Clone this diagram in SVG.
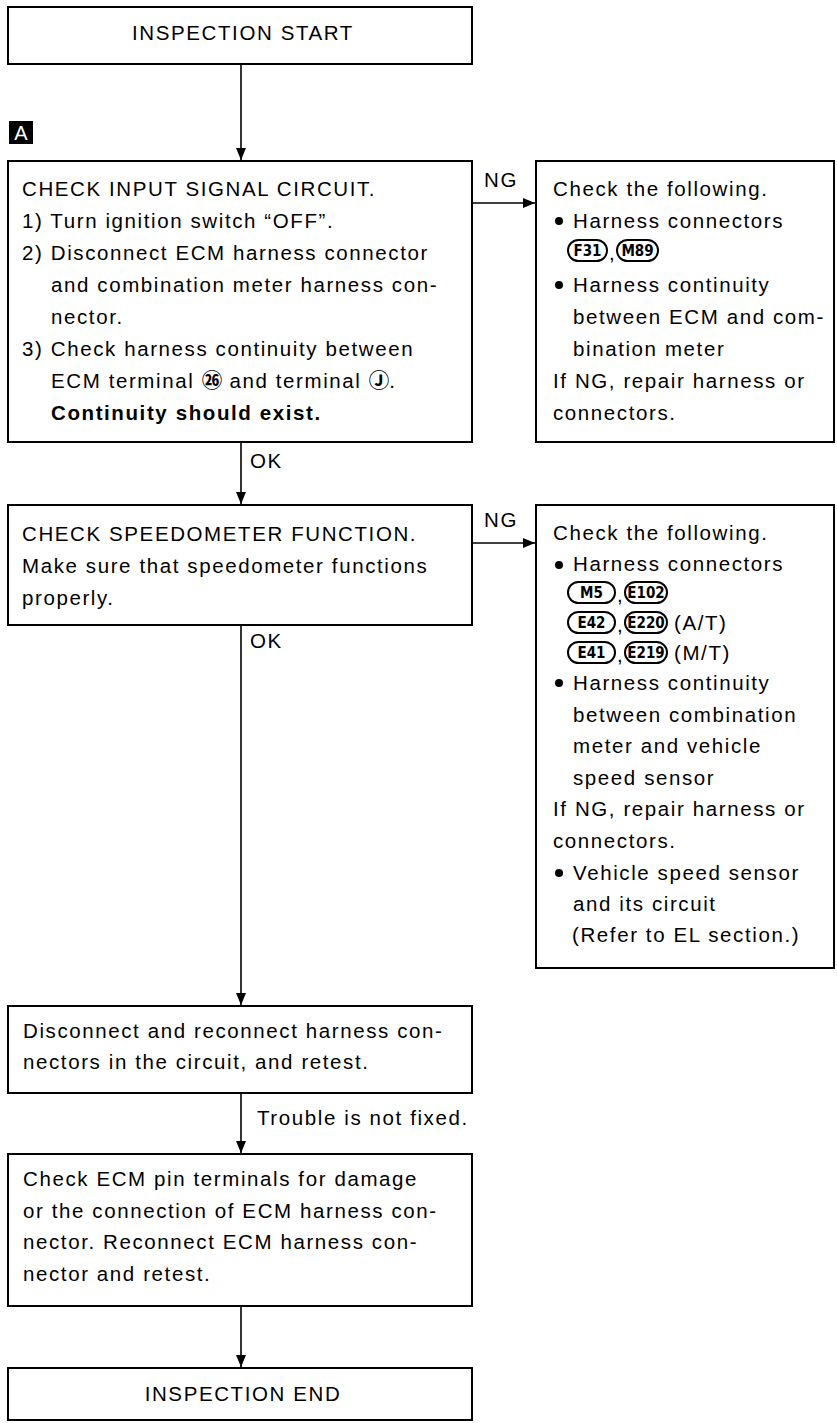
<svg xmlns="http://www.w3.org/2000/svg" width="837" height="1423" viewBox="0 0 837 1423">
<style>
.box{fill:#fff;stroke:#000;stroke-width:2}
.t{font-family:"Liberation Sans",Arial,sans-serif;font-size:20.5px;letter-spacing:1.6px;fill:#000}
.c{text-anchor:middle}
.b{font-weight:bold}
.ln{stroke:#000;stroke-width:1.6;fill:none}
.pill{fill:#fff;stroke:#000;stroke-width:2}
.pt{font-family:"DejaVu Sans Condensed","DejaVu Sans",sans-serif;font-weight:bold;font-size:15px;text-anchor:middle;fill:#000}
.sym{font-family:"Noto Sans CJK JP","DejaVu Sans",sans-serif;letter-spacing:0;font-weight:bold}
</style>
<defs>
<marker id="ah" markerUnits="userSpaceOnUse" markerWidth="12" markerHeight="12" viewBox="0 0 12 12" refX="12" refY="6" orient="auto">
<path d="M0,1 L12,6 L0,11 z" fill="#000"/>
</marker>
</defs>
<rect width="837" height="1423" fill="#fff"/>

<g id="connectors">
<path class="ln" d="M241,64 V160" marker-end="url(#ah)"/>
<path class="ln" d="M472,203 H535" marker-end="url(#ah)"/>
<path class="ln" d="M241,442 V504" marker-end="url(#ah)"/>
<path class="ln" d="M472,543 H535" marker-end="url(#ah)"/>
<path class="ln" d="M241,625 V1005" marker-end="url(#ah)"/>
<path class="ln" d="M241,1093 V1153" marker-end="url(#ah)"/>
<path class="ln" d="M241,1306 V1367" marker-end="url(#ah)"/>
<text class="t" x="484" y="187">NG</text>
<text class="t" x="484" y="527">NG</text>
<text class="t" x="250" y="468">OK</text>
<text class="t" x="250" y="648">OK</text>
<text class="t" x="257" y="1125">Trouble is not fixed.</text>
</g>

<g id="start">
<rect class="box" x="8" y="7" width="464" height="57"/>
<text class="t c" x="243" y="40">INSPECTION START</text>
</g>

<g id="markerA">
<rect x="9" y="121" width="24" height="23" fill="#000"/>
<text x="21" y="140" font-family="Liberation Sans,Arial,sans-serif" font-size="20" fill="#fff" text-anchor="middle">A</text>
</g>

<g id="check-input">
<rect class="box" x="8" y="161" width="464" height="281"/>
<text class="t" x="22" y="196">CHECK INPUT SIGNAL CIRCUIT.</text>
<text class="t" x="22" y="228">1) Turn ignition switch “OFF”.</text>
<text class="t" x="22" y="260">2) Disconnect ECM harness connector</text>
<text class="t" x="51" y="292">and combination meter harness con-</text>
<text class="t" x="51" y="324">nector.</text>
<text class="t" x="22" y="356">3) Check harness continuity between</text>
<text class="t" x="51" y="388">ECM terminal <tspan class="sym">㉖</tspan> and terminal <tspan class="sym">Ⓙ</tspan>.</text>
<text class="t b" x="51" y="420">Continuity should exist.</text>
</g>

<g id="ng1">
<rect class="box" x="536" y="161" width="298" height="281"/>
<text class="t" x="553" y="196">Check the following.</text>
<circle cx="559" cy="221" r="4"/>
<text class="t" x="573" y="228">Harness connectors</text>
<rect class="pill" x="568" y="240" width="39" height="21" rx="10.5"/>
<text class="pt" x="587.5" y="256">F31</text>
<text class="t" x="609" y="260">,</text>
<rect class="pill" x="617" y="240" width="41" height="21" rx="10.5"/>
<text class="pt" x="637.5" y="256">M89</text>
<circle cx="559" cy="285" r="4"/>
<text class="t" x="573" y="292">Harness continuity</text>
<text class="t" x="573" y="324">between ECM and com-</text>
<text class="t" x="573" y="356">bination meter</text>
<text class="t" x="553" y="388">If NG, repair harness or</text>
<text class="t" x="553" y="420">connectors.</text>
</g>

<g id="check-speedo">
<rect class="box" x="8" y="505" width="464" height="120"/>
<text class="t" x="22" y="541">CHECK SPEEDOMETER FUNCTION.</text>
<text class="t" x="22" y="573">Make sure that speedometer functions</text>
<text class="t" x="22" y="605">properly.</text>
</g>

<g id="ng2">
<rect class="box" x="536" y="505" width="298" height="463"/>
<text class="t" x="553" y="540">Check the following.</text>
<circle cx="559" cy="565" r="4"/>
<text class="t" x="573" y="571">Harness connectors</text>
<rect class="pill" x="568" y="582" width="47" height="21" rx="10.5"/>
<text class="pt" x="591.5" y="598">M5</text>
<text class="t" x="617" y="602">,</text>
<rect class="pill" x="625" y="582" width="42" height="21" rx="10.5"/>
<text class="pt" x="646" y="598">E102</text>
<rect class="pill" x="568" y="612" width="47" height="21" rx="10.5"/>
<text class="pt" x="591.5" y="628">E42</text>
<text class="t" x="617" y="632">,</text>
<rect class="pill" x="625" y="612" width="42" height="21" rx="10.5"/>
<text class="pt" x="646" y="628">E220</text>
<text class="t" x="674" y="630">(A/T)</text>
<rect class="pill" x="568" y="642" width="47" height="21" rx="10.5"/>
<text class="pt" x="591.5" y="658">E41</text>
<text class="t" x="617" y="662">,</text>
<rect class="pill" x="625" y="642" width="42" height="21" rx="10.5"/>
<text class="pt" x="646" y="658">E219</text>
<text class="t" x="674" y="660">(M/T)</text>
<circle cx="559" cy="683" r="4"/>
<text class="t" x="573" y="690">Harness continuity</text>
<text class="t" x="573" y="722">between combination</text>
<text class="t" x="573" y="753">meter and vehicle</text>
<text class="t" x="573" y="785">speed sensor</text>
<text class="t" x="553" y="816">If NG, repair harness or</text>
<text class="t" x="553" y="848">connectors.</text>
<circle cx="559" cy="873" r="4"/>
<text class="t" x="573" y="880">Vehicle speed sensor</text>
<text class="t" x="573" y="911">and its circuit</text>
<text class="t" x="572" y="942">(Refer to EL section.)</text>
</g>

<g id="reconnect">
<rect class="box" x="8" y="1006" width="464" height="87"/>
<text class="t" x="23" y="1038">Disconnect and reconnect harness con-</text>
<text class="t" x="23" y="1069">nectors in the circuit, and retest.</text>
</g>

<g id="check-ecm-pins">
<rect class="box" x="8" y="1154" width="464" height="152"/>
<text class="t" x="23" y="1186">Check ECM pin terminals for damage</text>
<text class="t" x="23" y="1218">or the connection of ECM harness con-</text>
<text class="t" x="23" y="1249">nector. Reconnect ECM harness con-</text>
<text class="t" x="23" y="1281">nector and retest.</text>
</g>

<g id="end">
<rect class="box" x="8" y="1368" width="464" height="52"/>
<text class="t c" x="243" y="1401">INSPECTION END</text>
</g>
</svg>
